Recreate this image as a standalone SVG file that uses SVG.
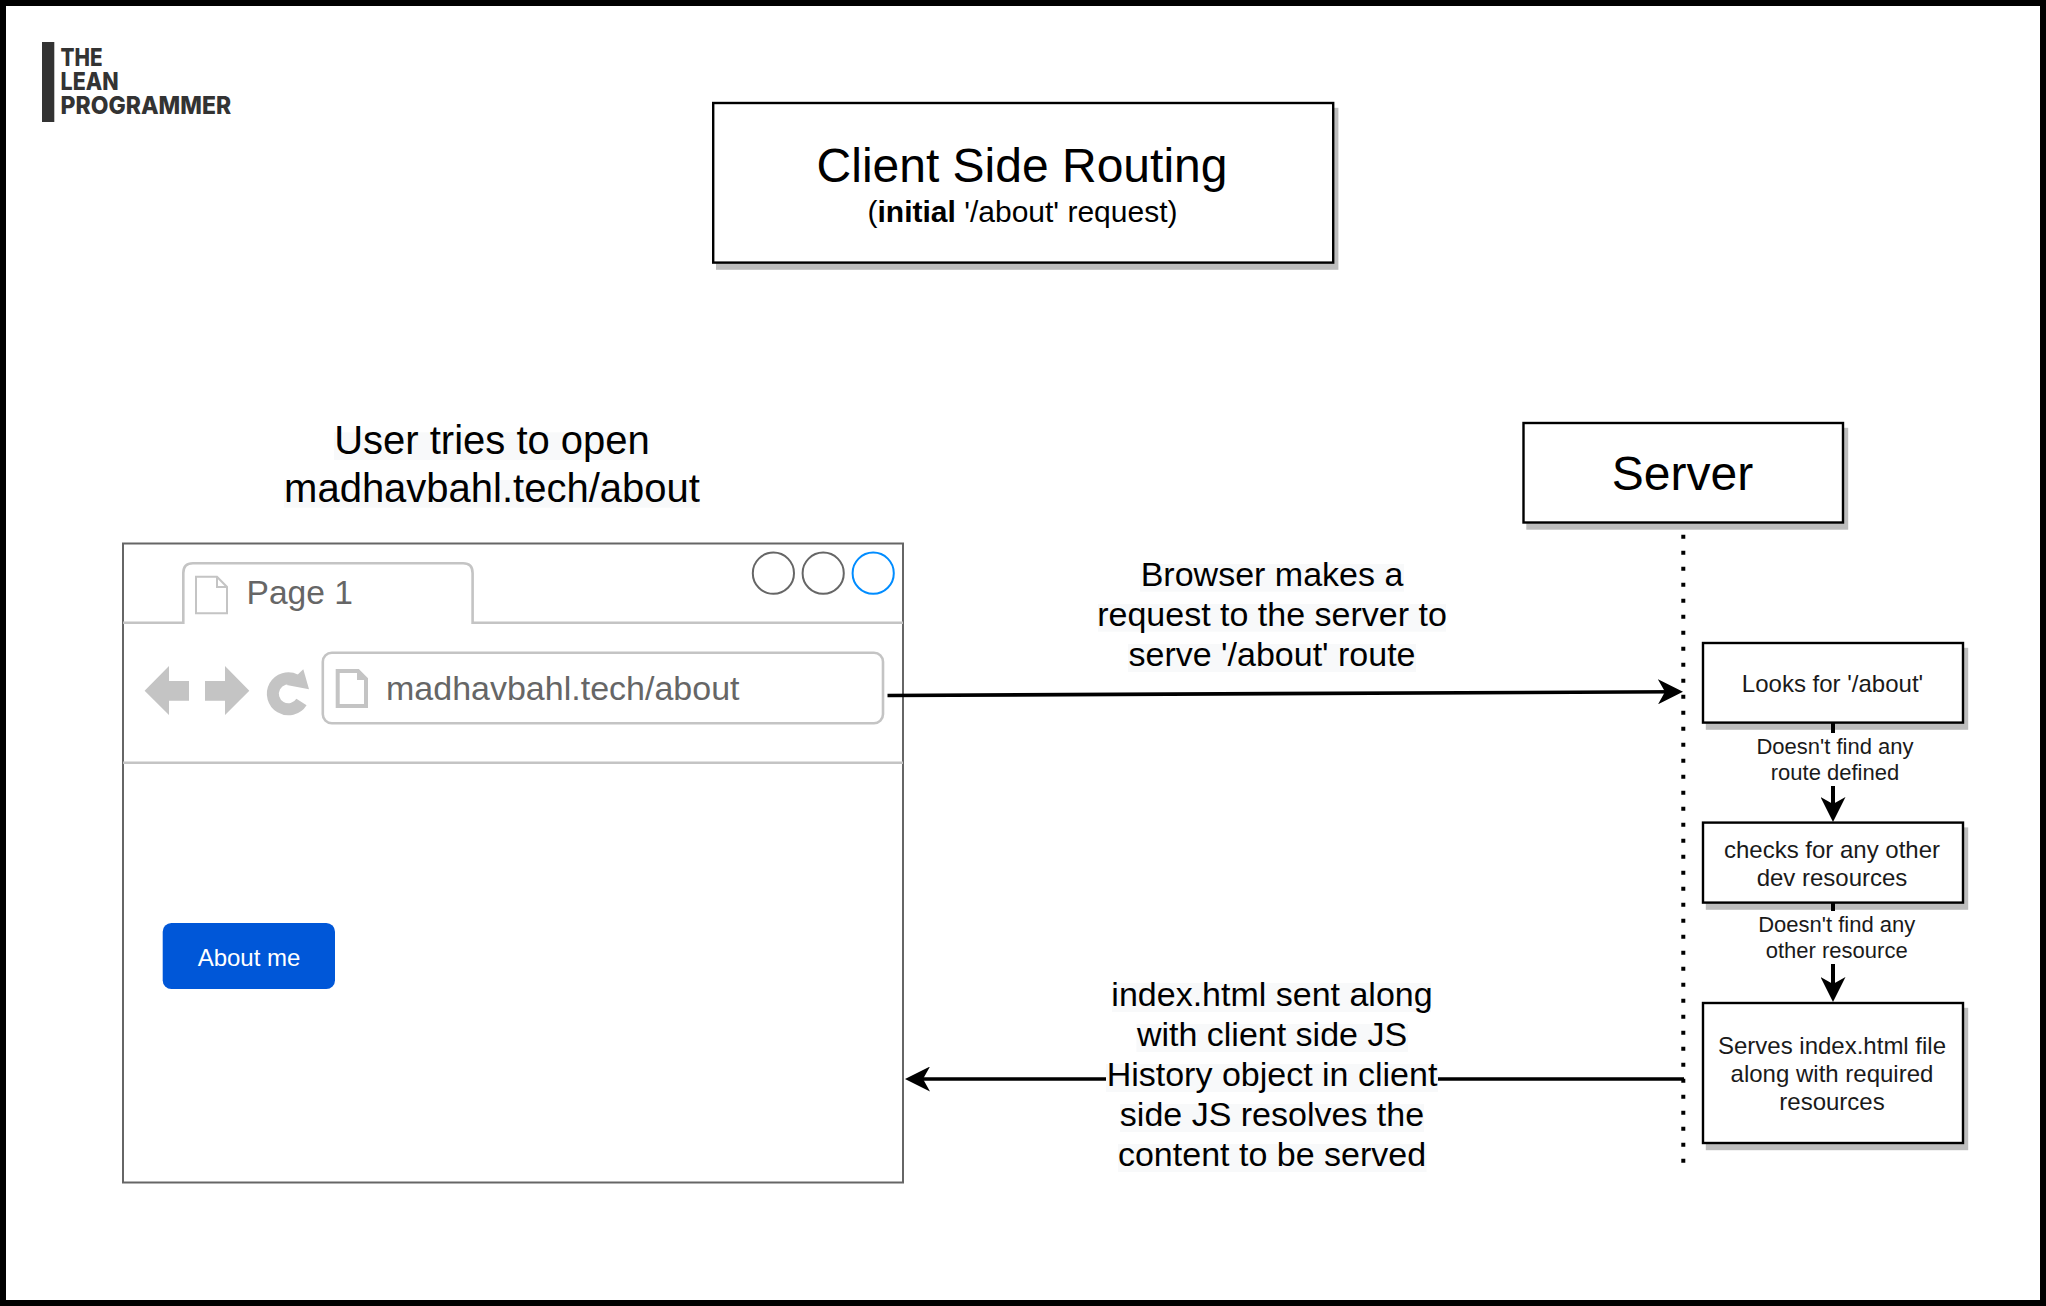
<svg xmlns="http://www.w3.org/2000/svg" width="2046" height="1306" viewBox="0 0 2046 1306">
<style>
text{font-family:"Liberation Sans",Arial,sans-serif;fill:#000;text-anchor:middle}
.box{fill:#fff;stroke:#000;stroke-width:2.4}
.sh{fill:#bdbdbd;stroke:#bdbdbd;stroke-width:2.4}
.hl{fill:#f8f9fa}
.ln{fill:none;stroke:#000;stroke-width:3.6}
.v{fill:none;stroke:#000;stroke-width:4}
.g{fill:none;stroke:#c4c4c4;stroke-width:2.6}
.gf{fill:#c4c4c4}
.t34{font-size:34px}
.t40{font-size:40px}
.t24{font-size:24px;fill:#1a1a1a}
.t22{font-size:22px;fill:#1a1a1a}
.logo{font-family:Inter,"Liberation Sans",sans-serif;font-weight:800;font-size:24px;fill:#333;text-anchor:start}
</style>
<defs>
<marker id="ah" markerUnits="userSpaceOnUse" markerWidth="25" markerHeight="25" viewBox="0 0 25 25" refX="19" refY="12.5" orient="auto"><path d="M0,0 L25,12.5 L0,25 L7,12.5 Z" fill="#000"/></marker>
</defs>
<rect width="2046" height="1306" fill="#fff"/>
<rect x="3" y="3" width="2040" height="1300" fill="none" stroke="#000" stroke-width="6"/>

<g id="logo">
<rect x="42" y="42" width="12.3" height="80" fill="#333"/>
<text class="logo" x="60.6" y="65.7" textLength="42" lengthAdjust="spacingAndGlyphs">THE</text>
<text class="logo" x="60.6" y="90" textLength="58" lengthAdjust="spacingAndGlyphs">LEAN</text>
<text class="logo" x="60.6" y="114" textLength="170.5" lengthAdjust="spacingAndGlyphs">PROGRAMMER</text>
</g>

<g id="title">
<rect class="sh" x="717.2" y="109" width="620" height="159.6"/>
<rect class="box" x="713.2" y="103" width="620" height="159.6"/>
<text x="1022" y="181.7" font-size="48">Client Side Routing</text>
<text x="1022.5" y="222" font-size="30">(<tspan font-weight="700">initial</tspan> '/about' request)</text>
</g>

<g id="user-label">
<rect class="hl" x="334" y="432.3" width="316" height="27.7"/>
<rect class="hl" x="284" y="480" width="416" height="27.7"/>
<text class="t40" x="492" y="453.6">User tries to open</text>
<text class="t40" x="492" y="501.7">madhavbahl.tech/about</text>
</g>

<g id="browser">
<rect x="123" y="543.5" width="780" height="639" fill="#fff" stroke="#666" stroke-width="2"/>
<path class="g" d="M123,622.7 H183.3 V573 Q183.3,563.3 193,563.3 H463 Q472.6,563.3 472.6,573 V622.7 H903"/>
<path class="g" d="M123,762.7 H903"/>
<path d="M196,576.7 H217 L227,587 V613.3 H196 Z M217,576.7 V587 H227" fill="none" stroke="#c4c4c4" stroke-width="2"/>
<text x="246.5" y="604" font-size="33.6" style="fill:#666;text-anchor:start">Page 1</text>
<circle cx="773.4" cy="573.2" r="20.6" fill="none" stroke="#666" stroke-width="2"/>
<circle cx="823.2" cy="573.2" r="20.6" fill="none" stroke="#666" stroke-width="2"/>
<circle cx="873.2" cy="573.2" r="20.6" fill="none" stroke="#008cff" stroke-width="2"/>
<path class="gf" d="M144.6,690.7 L169,666 V681 H189 V700.7 H169 V715 Z"/>
<path class="gf" d="M249.3,690.7 L225,666 V681 H205 V700.7 H225 V715 Z"/>
<path d="M295.5,680 A15.5,15.5 0 1 0 301.5,702" fill="none" stroke="#c4c4c4" stroke-width="12"/>
<path class="gf" d="M303.3,669.3 L309,689.3 L286.7,685 Z"/>
<rect class="g" x="322.8" y="652.7" width="560.2" height="70.6" rx="9"/>
<path d="M337.7,671 H358 L366,679 V706 H337.7 Z" fill="none" stroke="#c4c4c4" stroke-width="4"/>
<path d="M357,671 V680 H366 Z" fill="#c4c4c4"/>
<text x="386" y="700" font-size="34" style="fill:#666;text-anchor:start">madhavbahl.tech/about</text>
<rect x="162.7" y="923" width="172.3" height="66" rx="8.7" fill="#0057d8"/>
<text x="249" y="965.7" font-size="24" style="fill:#fff">About me</text>
</g>

<g id="server">
<rect class="sh" x="1527.5" y="429" width="319.5" height="99.5"/>
<rect class="box" x="1523.5" y="423" width="319.5" height="99.5"/>
<text x="1682.5" y="490" font-size="48">Server</text>
</g>

<g id="step1">
<rect class="sh" x="1707" y="649" width="260" height="79.6"/>
<rect class="box" x="1703" y="643" width="260" height="79.6"/>
<text class="t24" x="1832.5" y="692">Looks for '/about'</text>
</g>
<g id="step2">
<rect class="sh" x="1707" y="828.6" width="260" height="80"/>
<rect class="box" x="1703" y="822.6" width="260" height="80"/>
<text class="t24" x="1832" y="858.3">checks for any other</text>
<text class="t24" x="1832" y="886">dev resources</text>
</g>
<g id="step3">
<rect class="sh" x="1707" y="1009" width="260" height="140"/>
<rect class="box" x="1703" y="1003" width="260" height="140"/>
<text class="t24" x="1832" y="1054.3">Serves index.html file</text>
<text class="t24" x="1832" y="1081.7">along with required</text>
<text class="t24" x="1832" y="1110.3">resources</text>
</g>

<g id="connectors">
<path d="M1683.3,534.7 V1163" fill="none" stroke="#000" stroke-width="4" stroke-dasharray="4 12"/>
<path class="ln" d="M887.5,695.5 L1677,691.7" marker-end="url(#ah)"/>
<path class="ln" d="M1684,1079 H911" marker-end="url(#ah)"/>
<path class="v" d="M1833,723 V816" marker-end="url(#ah)"/>
<path class="v" d="M1833,903 V996" marker-end="url(#ah)"/>
</g>

<g id="request-label">
<rect class="hl" x="1140" y="564" width="264" height="27.7"/>
<rect class="hl" x="1098" y="604" width="348" height="27.7"/>
<rect class="hl" x="1128" y="644" width="288" height="28"/>
<text class="t34" x="1272" y="585.7">Browser makes a</text>
<text class="t34" x="1272" y="625.7">request to the server to</text>
<text class="t34" x="1272" y="665.7">serve '/about' route</text>
</g>

<g id="response-label">
<rect class="hl" x="1112" y="983" width="319" height="29"/>
<rect class="hl" x="1136.4" y="1024" width="271.6" height="28"/>
<rect class="hl" x="1106" y="1064" width="332" height="28"/>
<rect class="hl" x="1120" y="1104" width="304" height="28"/>
<rect class="hl" x="1118" y="1144" width="308.5" height="28"/>
<text class="t34" x="1272" y="1006">index.html sent along</text>
<text class="t34" x="1272" y="1046">with client side JS</text>
<text class="t34" x="1272" y="1086">History object in client</text>
<text class="t34" x="1272" y="1126">side JS resolves the</text>
<text class="t34" x="1272" y="1166">content to be served</text>
</g>

<g id="step1-label">
<rect x="1750" y="733" width="170" height="53" fill="#fff"/>
<text class="t22" x="1835" y="754">Doesn't find any</text>
<text class="t22" x="1835" y="780">route defined</text>
</g>
<g id="step2-label">
<rect x="1750" y="911" width="172" height="53" fill="#fff"/>
<text class="t22" x="1836.7" y="931.7">Doesn't find any</text>
<text class="t22" x="1836.7" y="958">other resource</text>
</g>
</svg>
